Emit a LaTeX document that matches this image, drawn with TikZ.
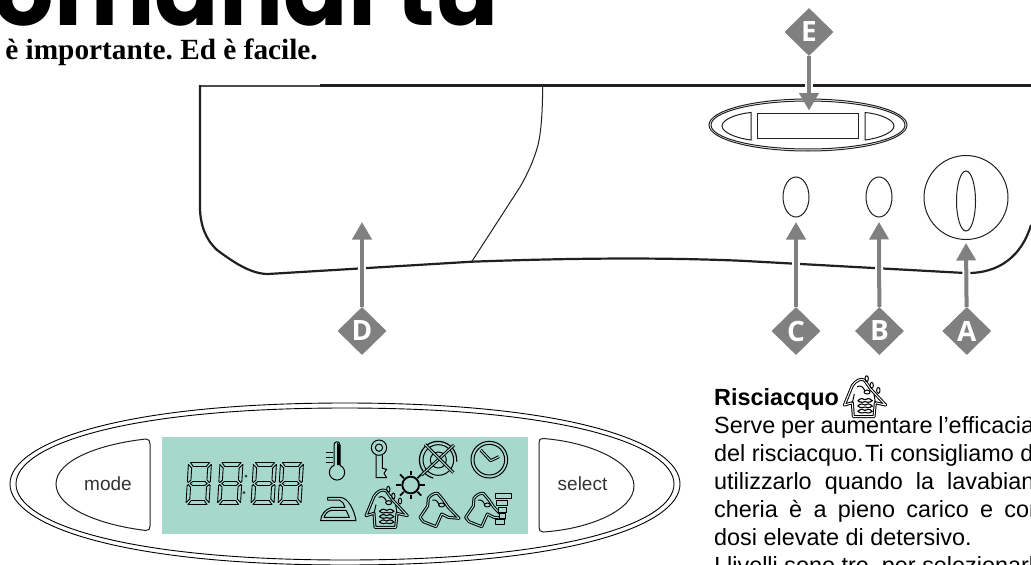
\documentclass[tikz,border=0pt]{standalone}
\usepackage{fontspec}
\setmainfont{Liberation Sans}
\newfontfamily\titlefont{Poppins}
\newfontfamily\headfont{Liberation Serif}
\newfontfamily\tagfont{Open Sans}
\usepackage{xcolor}
\usetikzlibrary{arrows.meta}
\usetikzlibrary{positioning, shapes.geometric}

\definecolor{lcdgreen}{HTML}{A6D9CC}
\definecolor{tagged}{HTML}{808080}
\definecolor{inkline}{HTML}{231F20}

\tikzset{
    tag/.style={diamond, fill=tagged, text=white, inner sep=0pt, minimum width=49pt, minimum height=48pt,
        font=\tagfont\fontsize{28}{28}\selectfont\bfseries},
    lead/.style={draw=tagged, line width=4pt, -{Triangle[length=17.5pt,width=19pt]},
        preaction={draw=white, line width=8pt, -}},
    copyline/.style={anchor=base west, inner sep=0pt, font=\fontsize{23.4}{28}\selectfont\frenchspacing, text=black},
    keylabel/.style={inner sep=0pt, font=\fontsize{19}{19}\selectfont, text=black!80},
    thin ink/.style={draw=inkline, line width=1pt},
    icon/.style={draw=black, line width=1pt, line join=round},
    icon two/.style={icon, double=#1, double distance=1pt},
    pics/lcddigit/.style={code={
        \begin{scope}[xslant=0.06, draw=black, line width=.9pt, line join=round]
            \draw (2.5,0) -- (21.5,0) -- (18.5,4) -- (5.5,4) -- cycle;
            \draw (3.5,21) -- (6,19) -- (18,19) -- (20.5,21) -- (18,23) -- (6,23) -- cycle;
            \draw (2.5,42) -- (21.5,42) -- (18.5,38) -- (5.5,38) -- cycle;
            \draw (.5,2) -- (4,5.5) -- (4,17.5) -- (1.5,20) -- (.5,19) -- cycle;
            \draw (23.5,2) -- (20,5.5) -- (20,17.5) -- (22.5,20) -- (23.5,19) -- cycle;
            \draw (.5,40) -- (4,36.5) -- (4,24.5) -- (1.5,22) -- (.5,23) -- cycle;
            \draw (23.5,40) -- (20,36.5) -- (20,24.5) -- (22.5,22) -- (23.5,23) -- cycle;
        \end{scope}
    }},
    pics/rinseicon/.style={code={
        \begin{scope}[scale=1/3]
            \draw[icon two=#1] (-62,25) -- (-38,-33) .. controls (-28,-48) and (-14,-56) .. (-2,-50) -- (18,-22) -- (62,25)
                -- (31,18) -- (27,60) -- (-35,60) -- (-38,18) -- cycle;
            \draw[icon] (-38,18) -- (-32,-8) (31,18) -- (27,-8);
            \draw[icon] (-24,-30) .. controls (-12,-36) and (-4,-28) .. (0,-16);
            \draw[icon] (6,-14) ellipse [x radius=9, y radius=6];
            \foreach \wy in {12,28,44}
                \draw[icon, line width=1.1pt] (-22,\wy) .. controls (-12,\wy-9) and (-6,\wy-7) .. (0,\wy-3) .. controls (6,\wy-7) and (12,\wy-9) .. (22,\wy)
                    .. controls (12,\wy+7) and (6,\wy+5) .. (0,\wy+3) .. controls (-6,\wy+5) and (-12,\wy+7) .. (-22,\wy);
            \draw[icon] (5,-54) ellipse [x radius=5, y radius=9];
            \draw[icon] (20,-34) ellipse [x radius=5, y radius=9];
            \draw[icon] (40,-19) ellipse [x radius=5, y radius=9];
        \end{scope}
    }},
    pics/shirticon/.style={code={
        \begin{scope}[scale=1/3]
            \draw[icon two=lcdgreen] (-32,-35) .. controls (-26,-44) and (-14,-52) .. (-4,-50) -- (13,-30) -- (28,-8) -- (60,25)
                -- (28,22) -- (8,12) -- (-9,50) -- (-47,35) -- (-57,22) -- (-34,-12) -- cycle;
            \draw[icon] (-20,-30) .. controls (-8,-32) and (-2,-24) .. (0,-14);
            \draw[icon] (8,-15) ellipse [x radius=9, y radius=6];
        \end{scope}
    }},
}

\begin{document}
\begin{tikzpicture}[x=1pt, y=-1pt]
    \useasboundingbox (0,0) rectangle (1031,565);
    \clip (0,0) rectangle (1031,565);
    \fill[white] (0,0) rectangle (1031,565);

    % page heading
    \node[anchor=base east, inner sep=0pt, font=\titlefont\fontsize{95}{95}\selectfont\bfseries] (title) at (499,25) {omandi tu};
    \node[anchor=base east, inner sep=0pt, font=\headfont\fontsize{29.3}{29}\selectfont\bfseries\frenchspacing] (subtitle) at (318,59) {i\hspace{-2pt} è importante. Ed è facile.};

    % control panel
    \draw[draw=inkline!80, line width=2pt] (200,85.5) -- (320,85.5);
    \draw[draw=inkline, line width=3pt] (320,85.5) -- (1031,85.5);
    \draw[draw=inkline, line width=2.2pt] (200,85) -- (200,207) .. controls (200,225) and (206,240) .. (217,250)
        .. controls (232,261) and (250,274) .. (268,274) -- (471.7,261.7)
        .. controls (560,258.5) and (650,257) .. (740,260.7) -- (965,273)
        .. controls (1000,274) and (1022,255) .. (1031,225);
    \draw[thin ink] (542.7,86) .. controls (542.5,110) and (541.5,130) .. (538,145)
        .. controls (534,160) and (527,175) .. (520,187) -- (471.7,261.7);

    % small display
    \draw[thin ink] (808,125) ellipse [x radius=99, y radius=26];
    \draw[thin ink] (808,125) ellipse [x radius=97, y radius=24];
    \draw[thin ink] (751,112.5) .. controls (735,114) and (722,120) .. (722,126) .. controls (722,132) and (735,138) .. (751,140) -- cycle;
    \draw[thin ink] (757,113) rectangle (858,138);
    \draw[thin ink] (865,112.5) .. controls (881,114) and (894,120) .. (894,126) .. controls (894,132) and (881,138) .. (865,140) -- cycle;

    % knobs
    \draw[thin ink] (796,197) ellipse [x radius=13, y radius=20];
    \draw[thin ink] (879,197) ellipse [x radius=13, y radius=20];
    \draw[thin ink] (966,197.5) circle [radius=42];
    \draw[thin ink] (966,201) ellipse [x radius=9.5, y radius=30];

    % tags and arrows
    \node[tag] (e) at (809,32) {E};
    \node[tag] (d) at (362,331) {D};
    \node[tag] (c) at (796,331) {C};
    \node[tag, right=34pt of c] (b) {B};
    \node[tag, right=38pt of b] (a) {A};
    \coordinate (tipe) at (809,110.5);
    \coordinate (tipd) at (362,222);
    \coordinate (tipc) at (796,222);
    \coordinate (tipb) at (879,222);
    \coordinate (tipa) at (966,243);
    \draw[lead] (e) -- (tipe);
    \draw[lead] (d) -- (tipd);
    \draw[lead] (c) -- (tipc);
    \draw[lead] (b) -- (tipb);
    \draw[lead] (a) -- (tipa);

    % large display
    \foreach \rx/\ry in {335/81, 329/76}
        \draw[draw=black, line width=.9pt] (345-\rx,484) .. controls (345-\rx,484-.50*\ry) and (345-.68*\rx,484-\ry) .. (345,484-\ry)
            .. controls (345+.68*\rx,484-\ry) and (345+\rx,484-.50*\ry) .. (345+\rx,484)
            .. controls (345+\rx,484+.50*\ry) and (345+.68*\rx,484+\ry) .. (345,484+\ry)
            .. controls (345-.68*\rx,484+\ry) and (345-\rx,484+.50*\ry) .. (345-\rx,484) -- cycle;
    \draw[thin ink] (150,444) .. controls (150,441) and (149,439) .. (146,439) .. controls (100,444) and (56,460) .. (56,484)
        .. controls (56,508) and (100,525) .. (146,530.5) .. controls (149,530.5) and (150,529) .. (150,526) -- cycle;
    \draw[thin ink] (539,443) .. controls (539,440) and (540,438) .. (543,438.5) .. controls (590,442) and (634,462) .. (634,486)
        .. controls (634,510) and (590,529) .. (543,532) .. controls (540,532) and (539,530) .. (539,527) -- cycle;
    \node[keylabel, anchor=base] (mode) at (108,490) {mode};
    \node[keylabel, anchor=base] (select) at (582.5,490) {select};

    % lcd window
    \fill[lcdgreen] (162,437) rectangle (528,534);
    \pic at (188,462.5) {lcddigit};
    \pic at (219.5,462.5) {lcddigit};
    \pic at (253,462.5) {lcddigit};
    \pic at (280,462.5) {lcddigit};
    \fill[black!80] (246,476) circle [radius=1.5] (244,492.7) circle [radius=1.5];
    \begin{scope}[shift={(260,400)}, scale=1/3]
        % thermometer
        \draw[icon] (222,196) -- (222,135) .. controls (222,122) and (240,122) .. (240,135) -- (240,196) arc [start angle=-67, end angle=247, radius=23];
        \fill (231,128) -- (240,135) -- (240,195) -- (231,195) -- cycle;
        \foreach \ty in {158,173,188}
            \draw[line width=1.6pt] (197,\ty) -- (218,\ty);
        % key
        \draw[icon] (357,143) circle [radius=23] (357,143) circle [radius=11];
        \draw[icon] (348,165) -- (348,233) -- (380,233) -- (372,220) -- (380,208) -- (367,205) -- (367,165);
        % crossed wheel
        \draw[icon, line width=1.2pt] (590,185) arc [start angle=5, end angle=-255, radius=56];
        \draw[icon] (535,180) circle [radius=46];
        \draw[icon] (535,180) circle [radius=24];
        \draw[icon two=lcdgreen] (485,225) -- (582,135);
        \draw[icon two=lcdgreen] (495,133) -- (580,218);
        % clock
        \draw[icon] (688,179) circle [radius=55] (688,179) circle [radius=46];
        \draw[icon two=lcdgreen] (662,150) -- (692,182) -- (717,170);
        % iron
        \draw[icon] (182,362) -- (288,362) .. controls (283,330) and (265,293) .. (240,292) -- (203,292) -- (203,300) -- (238,300)
            .. controls (248,303) and (252,312) .. (255,322) -- (215,322) .. controls (195,328) and (182,345) .. (182,362) -- cycle;
        \draw[icon] (192,352) .. controls (196,340) and (205,332) .. (215,331) -- (258,331) .. controls (262,340) and (266,346) .. (268,352) -- cycle;
        % sun
        \draw[line width=1.9pt] (452,255) circle [radius=25];
        \foreach \ang in {0,90,180,270}
            \draw[line width=1.7pt] (452,255) ++(\ang:29) -- ++(\ang:14);
        \foreach \ang in {45,135,225,315}
            \draw[line width=1.7pt] (452,255) ++(\ang:29) -- ++(\ang:16);
        % laundry
        \pic at (380,322) {rinseicon=lcdgreen};
        \pic at (537,330) {shirticon};
        \pic at (674,330) {shirticon};
        \foreach \xa/\ya/\xb/\yb in {705/281/755/296, 710/301/743/316, 715/321/738/336, 718/341/735/355, 705/358/732/373}
            \draw[icon, fill=lcdgreen] (\xa,\ya) rectangle (\xb,\yb);
    \end{scope}

    % text column
    \node[copyline, font=\fontsize{23.4}{28}\selectfont\bfseries] (rinse) at (714,405) {Risciacquo};
    \pic at (865,396.7) {rinseicon=white};
    \node[copyline] (line1) at (714,433.5) {\makebox[320pt][s]{Serve per aumentare l’efficacia}};
    \node[copyline] (line2) at (714,461.5) {del risciacquo.\hspace{-5pt} Ti consigliamo di};
    \node[copyline] (line3) at (714,489.5) {\makebox[328pt][s]{utilizzarlo quando la lavabian-}};
    \node[copyline] (line4) at (714,517.5) {\makebox[328pt][s]{cheria è a pieno carico e con}};
    \node[copyline] (line5) at (714,545.5) {dosi elevate di detersivo.};
    \node[copyline] (line6) at (714,573.5) {I livelli sono tre, per selezionarli};
\end{tikzpicture}
\end{document}
